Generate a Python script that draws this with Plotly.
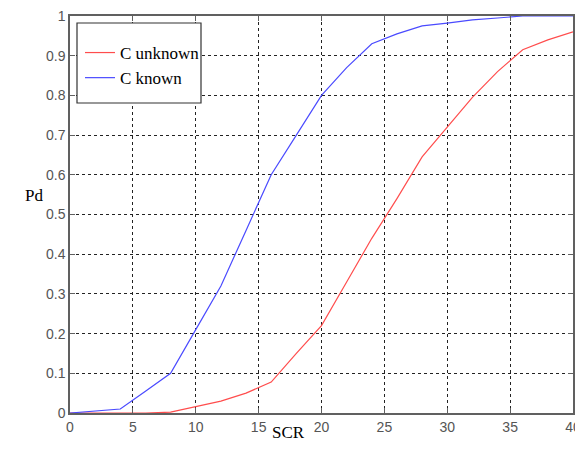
import plotly.graph_objects as go

# Signal-to-clutter ratio sweep (dB) and detection probability for the two detectors
scr = [0, 2, 4, 6, 8, 10, 12, 14, 16, 18, 20, 22, 24, 26, 28, 30, 32, 34, 36, 38, 40]
pd_c_unknown = [0, 0, 0, 0, 0.002, 0.016, 0.03, 0.05, 0.078, 0.15, 0.22, 0.33, 0.44, 0.54,
                0.645, 0.72, 0.795, 0.86, 0.915, 0.94, 0.96]
pd_c_known = [0, 0.005, 0.01, 0.055, 0.10, 0.21, 0.32, 0.46, 0.60, 0.70, 0.80, 0.87, 0.93,
              0.955, 0.975, 0.982, 0.99, 0.995, 1.0, 1.0, 1.0]

x_ticks = [0, 5, 10, 15, 20, 25, 30, 35, 40]
y_ticks = [0, 0.1, 0.2, 0.3, 0.4, 0.5, 0.6, 0.7, 0.8, 0.9, 1]
y_tick_text = ["0", "0.1", "0.2", "0.3", "0.4", "0.5", "0.6", "0.7", "0.8", "0.9", "1"]

W, H = 575, 454
L, R, T, B = 70, 2, 16, 41
pw, ph = W - L - R, H - T - B


def px_x(p):
    return (p - L) / pw


def px_y(p):
    return (H - B - p) / ph


serif = "Liberation Serif, Times New Roman, serif"
sans = "Liberation Sans, Arial, sans-serif"
axis_grey = "#606060"

fig = go.Figure()
fig.add_trace(go.Scatter(x=scr, y=pd_c_unknown, mode="lines", name="C unknown",
                         line=dict(color="#ff4d4d", width=1.2)))
fig.add_trace(go.Scatter(x=scr, y=pd_c_known, mode="lines", name="C known",
                         line=dict(color="#4a4aff", width=1.2)))

axis_common = dict(
    showline=True, linecolor=axis_grey, linewidth=1.5, mirror="ticks",
    ticks="inside", ticklen=5, tickcolor=axis_grey, tickwidth=1,
    showgrid=True, gridcolor="#222222", griddash="dot", gridwidth=1,
    zeroline=False, tickfont=dict(family=sans, size=14, color="#555555"),
    ticklabeloverflow="allow", automargin=False,
)

fig.update_xaxes(range=[0, 40], tickvals=x_ticks, **axis_common)
fig.update_yaxes(range=[0, 1], tickvals=y_ticks, ticktext=y_tick_text, **axis_common)

# Legend frame
fig.add_shape(type="rect", xref="paper", yref="paper",
              x0=px_x(77), x1=px_x(201), y0=px_y(103), y1=px_y(23),
              line=dict(color="#333333", width=1.2), fillcolor="white", layer="above")

fig.add_annotation(text="Pd", xref="paper", yref="paper", x=px_x(23), y=px_y(195),
                   showarrow=False, font=dict(family=serif, size=17, color="black"))
fig.add_annotation(text="SCR", xref="paper", yref="paper", x=px_x(288), y=px_y(444),
                   showarrow=False, font=dict(family=serif, size=17, color="black"))

fig.update_layout(
    width=W, height=H,
    margin=dict(l=L, r=R, t=T, b=B, autoexpand=False),
    paper_bgcolor="white", plot_bgcolor="white",
    showlegend=True,
    legend=dict(x=px_x(80), y=px_y(35), xanchor="left", yanchor="top",
                bgcolor="rgba(0,0,0,0)", borderwidth=0,
                font=dict(family=serif, size=17, color="black")),
)

fig.write_html("out.html")
